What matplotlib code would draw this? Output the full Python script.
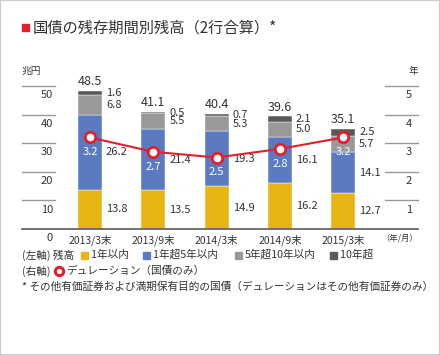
import matplotlib.pyplot as plt
from matplotlib.patches import Rectangle
import numpy as np

plt.rcParams['font.family'] = ['Noto Sans CJK JP', 'DejaVu Sans']
NUM = ['Liberation Sans Narrow', 'Noto Sans CJK JP', 'DejaVu Sans']

# data
periods = ["2013/3末", "2013/9末", "2014/3末", "2014/9末", "2015/3末"]
within_1y = [13.8, 13.5, 14.9, 16.2, 12.7]
y1_to_5 = [26.2, 21.4, 19.3, 16.1, 14.1]
y5_to_10 = [6.8, 5.5, 5.3, 5.0, 5.7]
over_10y = [1.6, 0.5, 0.7, 2.1, 2.5]
totals = [48.5, 41.1, 40.4, 39.6, 35.1]
duration = [3.2, 2.7, 2.5, 2.8, 3.2]

seg_names = ["1年以内", "1年超5年以内", "5年超10年以内", "10年超"]
seg_colors = ["#E6B514", "#5A7BC2", "#999999", "#595959"]
red = "#E2202C"
txt = "#333333"

W, H = 440, 355
fig = plt.figure(figsize=(W / 100, H / 100), dpi=100)
fx = lambda px: px / W
fy = lambda py: 1 - py / H

# frame
fig.patches.append(Rectangle((0, 0), 1, 1, transform=fig.transFigure,
                             fill=False, edgecolor="#cccccc", lw=1.5))

# title
fig.patches.append(Rectangle((fx(22), fy(31)), fx(7), 7 / H,
                             transform=fig.transFigure, color=red))
fig.text(fx(33), fy(28), "国債の残存期間別残高（2行合算）*", fontsize=11,
         color=txt, va="center", ha="left")

ax = fig.add_axes([fx(22), fy(229), fx(418) - fx(22), (229 - 86) / H])
ax2 = ax.twinx()
for a in (ax, ax2):
    a.set_axis_off()
x = np.arange(len(periods))
step = 63.3
ax.set_xlim((22 - 90) / step, (418 - 90) / step)
ax.set_ylim(0, 50)
ax2.set_ylim(0, 5)
ax2.set_xlim(ax.get_xlim())

# tick lines and labels
for v in [10, 20, 30, 40, 50]:
    ax.plot([0, 0.083], [v, v], transform=ax.get_yaxis_transform(),
            color="#999999", lw=1, clip_on=False)
for v in [0, 10, 20, 30, 40, 50]:
    ax.annotate(str(v), (0.078, v), xycoords=ax.get_yaxis_transform(),
                xytext=(0, -3), textcoords="offset points", ha="right",
                va="top", fontsize=8, color=txt, family=NUM)
for v in [1, 2, 3, 4, 5]:
    ax2.plot([0.917, 1.0], [v, v], transform=ax2.get_yaxis_transform(),
             color="#999999", lw=1, clip_on=False)
    ax2.annotate(str(v), (0.985, v), xycoords=ax2.get_yaxis_transform(),
                 xytext=(0, -3), textcoords="offset points", ha="right",
                 va="top", fontsize=8, color=txt, family=NUM)
ax.axhline(0, color="#666666", lw=1.3, clip_on=False)

fig.text(fx(22), fy(71), "兆円", fontsize=7, color=txt, va="center")
fig.text(fx(418), fy(71), "年", fontsize=7, color=txt, va="center", ha="right")
fig.text(fx(418), fy(238), "（年/月）", fontsize=6, color=txt, va="center", ha="right")

# bars
bw = 24 / step
series = [within_1y, y1_to_5, y5_to_10, over_10y]
bottom = np.zeros(len(periods))
for vals, col in zip(series, seg_colors):
    vals = np.array(vals)
    ax.bar(x, vals, bw, bottom=bottom, color=col, edgecolor="white", lw=0.3)
    for i in range(len(x)):
        ax.text(x[i] + bw / 2 + 4 / step, bottom[i] + vals[i] / 2, f"{vals[i]:.1f}",
                fontsize=8, color=txt, va="center", ha="left", family=NUM)
    bottom += vals

for i in range(len(x)):
    ax.annotate(f"{totals[i]:.1f}", (x[i], bottom[i]), xytext=(0, 2),
                textcoords="offset points", ha="center", va="bottom",
                fontsize=9, color=txt, family=NUM)
    ax.annotate(periods[i], (x[i], 0), xytext=(0, -4), textcoords="offset points",
                ha="center", va="top", fontsize=7.5, color=txt, family=NUM)

# duration line
ax2.plot(x, duration, color=red, lw=1.5, marker="o", ms=7.5, mfc="white",
         mec=red, mew=2, zorder=5)
for i in range(len(x)):
    ax2.annotate(f"{duration[i]:.1f}", (x[i], duration[i]), xytext=(0, -7),
                 textcoords="offset points", ha="center", va="top",
                 fontsize=8, color="white", family=NUM)

# legend
fs = 7.7
ly = fy(255)
fig.text(fx(22), ly, "(左軸) 残高", fontsize=fs, color=txt, va="center")
lx = [81, 143, 235, 330]
for px, name, col in zip(lx, seg_names, seg_colors):
    fig.patches.append(Rectangle((fx(px), ly - 3.5 / H), fx(7), 7 / H,
                                 transform=fig.transFigure, color=col))
    fig.text(fx(px + 10), ly, name, fontsize=fs, color=txt, va="center")
ly2 = fy(271)
fig.text(fx(22), ly2, "(右軸)", fontsize=fs, color=txt, va="center")
fig.lines.append(plt.Line2D([fx(59)], [ly2], transform=fig.transFigure,
                            marker="o", ms=6, mfc="white", mec=red, mew=2.2))
fig.text(fx(66), ly2, "デュレーション（国債のみ）", fontsize=fs, color=txt, va="center")
fig.text(fx(22), fy(287), "* その他有価証券および満期保有目的の国債（デュレーションはその他有価証券のみ）",
         fontsize=fs, color=txt, va="center")

fig.savefig("out.png", dpi=100)
